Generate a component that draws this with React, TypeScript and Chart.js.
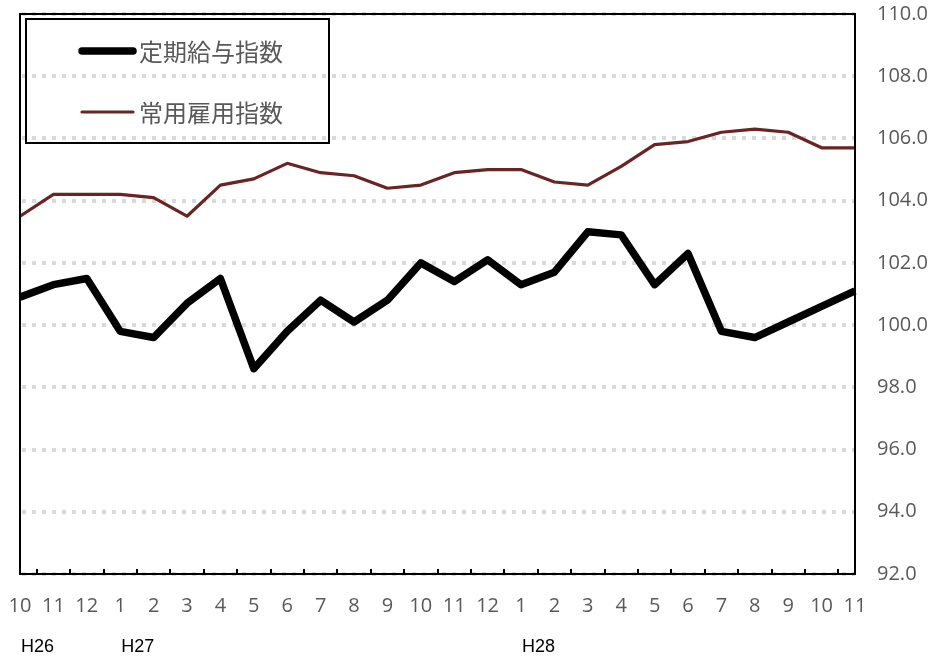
import React, { useEffect, useRef } from "react";
import { Chart, registerables } from "chart.js";

Chart.register(...registerables);

const monthLabels = ["10","11","12","1","2","3","4","5","6","7","8","9","10","11","12","1","2","3","4","5","6","7","8","9","10","11"];
const yearLabels = ["H26","","","H27","","","","","","","","","","","","H28","","","","","","","","","",""];
const wageIndex = [100.9,101.3,101.5,99.8,99.6,100.7,101.5,98.6,99.8,100.8,100.1,100.8,102.0,101.4,102.1,101.3,101.7,103.0,102.9,101.3,102.3,99.8,99.6,100.1,100.6,101.1];
const employmentIndex = [103.5,104.2,104.2,104.2,104.1,103.5,104.5,104.7,105.2,104.9,104.8,104.4,104.5,104.9,105.0,105.0,104.6,104.5,105.1,105.8,105.9,106.2,106.3,106.2,105.7,105.7];
const seriesNames = ["定期給与指数", "常用雇用指数"];
const yMin = 92;
const yMax = 110;
const yStep = 2;

const GRAY = "#595959";
const RED = "#6b2424";
const CLEAR = "rgba(0,0,0,0)";

const framePlugin = {
  id: "frame",
  afterDatasetsDraw(chart: any) {
    const { ctx, chartArea } = chart;
    const xs = chart.scales.x;
    ctx.save();
    // plot border
    ctx.strokeStyle = "#000";
    ctx.lineWidth = 2;
    ctx.strokeRect(chartArea.left, chartArea.top, chartArea.right - chartArea.left, chartArea.bottom - chartArea.top);
    // inside tick marks between categories
    ctx.lineWidth = 2;
    ctx.beginPath();
    for (let i = 0; i < monthLabels.length - 1; i++) {
      const x = Math.round((xs.getPixelForValue(i) + xs.getPixelForValue(i + 1)) / 2);
      ctx.moveTo(x, chartArea.bottom);
      ctx.lineTo(x, chartArea.bottom - 5);
    }
    ctx.stroke();
    // year labels
    ctx.fillStyle = "#000";
    ctx.font = "18px 'Liberation Sans', Arial, sans-serif";
    ctx.textAlign = "left";
    ctx.textBaseline = "middle";
    yearLabels.forEach((t, i) => {
      if (!t) return;
      ctx.fillText(t, xs.getPixelForValue(i) + 1, chartArea.bottom + 73);
    });
    // legend
    const bx = chartArea.left + 6;
    const by = chartArea.top + 5;
    ctx.strokeStyle = "#000";
    ctx.lineWidth = 2;
    ctx.strokeRect(bx, by, 303, 124);
    ctx.font = "24px 'Noto Sans CJK JP', sans-serif";
    ctx.fillStyle = GRAY;
    chart.data.datasets.forEach((ds: any, k: number) => {
      const ly = by + 32 + k * 61;
      ctx.strokeStyle = ds.borderColor;
      ctx.lineWidth = ds.borderWidth;
      ctx.lineCap = "round";
      ctx.beginPath();
      ctx.moveTo(bx + 56, ly);
      ctx.lineTo(bx + 107, ly);
      ctx.stroke();
      ctx.fillText(ds.label, bx + 113, ly + 1);
    });
    ctx.restore();
  },
};

export default function App() {
  const ref = useRef<HTMLCanvasElement | null>(null);
  useEffect(() => {
    const canvas = ref.current;
    if (!canvas) return;
    const chart = new Chart(canvas, {
      type: "line",
      data: {
        labels: monthLabels,
        datasets: [
          {
            label: seriesNames[0],
            data: wageIndex,
            borderColor: "#000000",
            backgroundColor: "#000000",
            borderWidth: 7.5,
            borderJoinStyle: "round",
            pointRadius: 0,
            tension: 0,
          },
          {
            label: seriesNames[1],
            data: employmentIndex,
            borderColor: RED,
            backgroundColor: RED,
            borderWidth: 3.2,
            borderJoinStyle: "round",
            pointRadius: 0,
            tension: 0,
          },
        ],
      },
      options: {
        responsive: false,
        animation: false,
        devicePixelRatio: 1,
        layout: { padding: { left: 20, top: 14, right: 0, bottom: 0 }, autoPadding: false },
        plugins: { legend: { display: false }, tooltip: { enabled: false } },
        scales: {
          x: {
            type: "category",
            offset: false,
            grid: { display: true, drawOnChartArea: false, drawTicks: true, tickLength: 20, color: CLEAR, tickColor: CLEAR },
            border: { display: false },
            ticks: {
              color: GRAY,
              font: { family: "'Open Sans', sans-serif", size: 20 },
              padding: 0,
              maxRotation: 0,
              autoSkip: false,
            },
            afterFit(scale: any) {
              scale.height = 83;
            },
          },
          y: {
            position: "right",
            min: yMin,
            max: yMax,
            grid: {
              color: "#d9d9d9",
              lineWidth: 4,
              drawTicks: true,
              tickLength: 22,
              tickColor: CLEAR,
            },
            border: { display: false, dash: [4, 6], dashOffset: -2 },
            ticks: {
              stepSize: yStep,
              color: GRAY,
              font: { family: "'Open Sans', sans-serif", size: 20 },
              padding: 0,
              callback: (v: any) => Number(v).toFixed(1),
            },
            afterFit(scale: any) {
              scale.width = 81;
            },
          },
        },
      },
      plugins: [framePlugin],
    } as any);
    return () => chart.destroy();
  }, []);
  return (
    <div style={{ position: "fixed", left: 0, top: 0, width: 936, height: 657, background: "#fff" }}>
      <canvas ref={ref} width={936} height={657} />
    </div>
  );
}
